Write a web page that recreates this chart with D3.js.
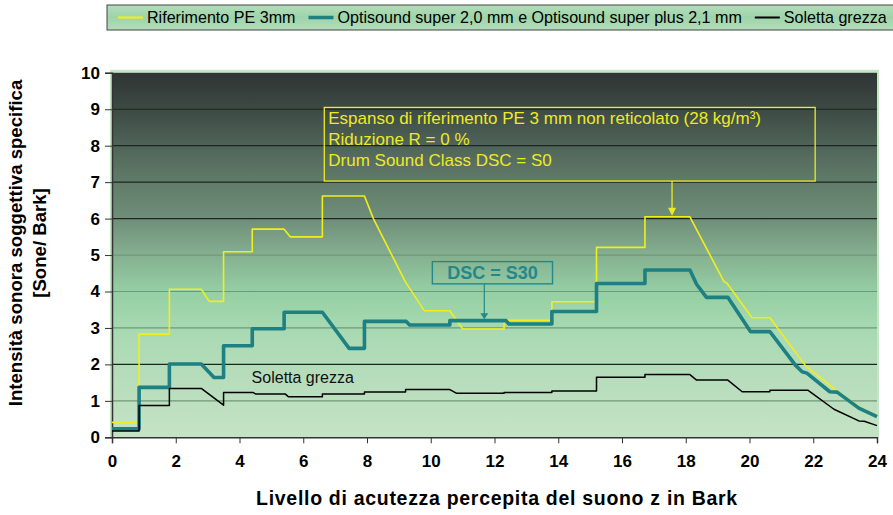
<!DOCTYPE html>
<html>
<head>
<meta charset="utf-8">
<script src="https://cdn.jsdelivr.net/npm/d3@7"></script>
<style>
  body { margin: 0; background: #fff; }
  svg { display: block; font-family: "Liberation Sans", Arial, sans-serif; }
</style>
</head>
<body>
<svg id="chart" width="893" height="515"></svg>
<script>
// Series vertices (Bark, Sone/Bark)
const barkRif = [0, 0.85, 0.85, 1.8, 1.8, 2.8, 3.05, 3.5, 3.5, 4.4, 4.4, 5.4, 5.59, 6.6, 6.6, 7.92, 8.2, 9.2, 9.8, 10.6, 11.0, 12.3, 12.3, 13.8, 13.8, 15.2, 15.2, 16.72, 16.72, 18.13, 19.2, 19.3, 20.08, 20.64, 21.76, 22.7, 23.43, 24];
const soneRif = [0.41, 0.41, 2.83, 2.83, 4.06, 4.06, 3.73, 3.73, 5.09, 5.09, 5.71, 5.71, 5.5, 5.5, 6.62, 6.62, 6.0, 4.27, 3.47, 3.47, 2.97, 2.97, 3.21, 3.21, 3.72, 3.72, 5.21, 5.21, 6.05, 6.05, 4.27, 4.22, 3.28, 3.28, 1.96, 1.30, 0.84, 0.59];

const barkOpti = [0, 0.85, 0.85, 1.8, 1.8, 2.8, 3.2, 3.5, 3.5, 4.4, 4.4, 5.4, 5.4, 6.6, 7.44, 7.92, 7.92, 9.23, 9.34, 10.6, 10.6, 12.36, 12.45, 13.8, 13.8, 15.2, 15.2, 16.72, 16.72, 18.13, 18.34, 18.65, 19.32, 20.03, 20.64, 21.44, 21.65, 21.8, 22.52, 22.75, 23.43, 24];
const soneOpti = [0.23, 0.23, 1.37, 1.37, 2.01, 2.01, 1.64, 1.64, 2.51, 2.51, 2.98, 2.98, 3.43, 3.43, 2.44, 2.44, 3.18, 3.18, 3.08, 3.08, 3.20, 3.20, 3.11, 3.11, 3.45, 3.45, 4.22, 4.22, 4.59, 4.59, 4.2, 3.84, 3.84, 2.90, 2.90, 1.98, 1.80, 1.76, 1.25, 1.24, 0.80, 0.57];

const barkSoletta = [0, 0.85, 0.85, 1.8, 1.8, 2.8, 3.5, 3.5, 4.42, 4.5, 5.43, 5.54, 6.6, 6.6, 7.92, 7.92, 9.21, 9.21, 10.6, 10.8, 12.3, 12.3, 13.8, 13.8, 15.2, 15.2, 16.72, 16.72, 18.13, 18.34, 19.32, 19.77, 20.64, 20.64, 21.84, 22.65, 23.43, 23.6, 24];
const soneSoletta = [0.17, 0.17, 0.87, 0.87, 1.34, 1.34, 0.88, 1.23, 1.23, 1.19, 1.19, 1.11, 1.11, 1.19, 1.19, 1.24, 1.24, 1.31, 1.31, 1.21, 1.21, 1.23, 1.23, 1.27, 1.27, 1.65, 1.65, 1.72, 1.72, 1.57, 1.57, 1.25, 1.25, 1.29, 1.29, 0.77, 0.45, 0.44, 0.32];

const seriesNames = ['Riferimento PE 3mm', 'Optisound super 2,0 mm e Optisound super plus 2,1 mm', 'Soletta grezza'];
const xTickValues = [0, 2, 4, 6, 8, 10, 12, 14, 16, 18, 20, 22, 24];
const yTickValues = [0, 1, 2, 3, 4, 5, 6, 7, 8, 9, 10];
const refNote = ['Espanso di riferimento PE 3 mm non reticolato (28 kg/m³)', 'Riduzione R = 0 %', 'Drum Sound Class DSC = S0'];

const zip = (a, b) => a.map((v, i) => [v, b[i]]);
const series = [
  { name: seriesNames[0], pts: zip(barkRif, soneRif), color: '#f2ee1c', width: 1.6 },
  { name: seriesNames[1], pts: zip(barkOpti, soneOpti), color: '#1d8083', width: 3.6 },
  { name: seriesNames[2], pts: zip(barkSoletta, soneSoletta), color: '#000000', width: 1.5 }
];

const svg = d3.select('#chart');
const x = d3.scaleLinear().domain([0, 24]).range([112, 877]);
const y = d3.scaleLinear().domain([0, 10]).range([437.3, 72.8]);

// gradients
const defs = svg.append('defs');
const bg = defs.append('linearGradient').attr('id', 'plotbg').attr('x1', 0).attr('y1', 0).attr('x2', 0).attr('y2', 1);
[[0, '#2f3434'], [0.1, '#3d4a44'], [0.2, '#4f6458'], [0.3, '#617c6a'], [0.4, '#6f8e79'],
 [0.5, '#85b090'], [0.6, '#95cfa4'], [0.7, '#a7d9b1'], [0.8, '#b3dcb9'], [0.9, '#bcdfbf'], [1, '#c4e3c5']]
  .forEach(s => bg.append('stop').attr('offset', s[0]).attr('stop-color', s[1]));
const lg = defs.append('linearGradient').attr('id', 'legbg').attr('x1', 0).attr('y1', 0).attr('x2', 0).attr('y2', 1);
[[0, '#b4ddba'], [0.5, '#9ed4aa'], [1, '#b4ddba']]
  .forEach(s => lg.append('stop').attr('offset', s[0]).attr('stop-color', s[1]));

// plot area
svg.append('rect')
  .attr('x', x(0) - 2).attr('y', y(10) - 3)
  .attr('width', x(24) - x(0) + 4).attr('height', y(0) - y(10) + 3)
  .attr('fill', '#c6e5c6');
svg.append('rect')
  .attr('x', x(0)).attr('y', y(10))
  .attr('width', x(24) - x(0)).attr('height', y(0) - y(10))
  .attr('fill', 'url(#plotbg)');

// gridlines
svg.append('g').selectAll('line')
  .data(yTickValues.filter(v => v > 0 && v < 10))
  .enter().append('line')
  .attr('x1', x(0)).attr('x2', x(24))
  .attr('y1', d => y(d)).attr('y2', d => y(d))
  .attr('stroke', d => (d === 2 || d >= 6) ? '#1e2420' : '#6f9878')
  .attr('stroke-width', 1.2);

// axes
const yAxis = svg.append('g')
  .attr('transform', `translate(${x(0)},0)`)
  .call(d3.axisLeft(y).tickValues(yTickValues).tickSize(7).tickPadding(5));
const xAxis = svg.append('g')
  .attr('transform', `translate(0,${y(0)})`)
  .call(d3.axisBottom(x).tickValues(xTickValues).tickSize(6).tickPadding(12));
[yAxis, xAxis].forEach(a => {
  a.select('.domain').attr('stroke', '#333').attr('stroke-width', 1.5);
  a.selectAll('.tick line').attr('stroke', '#333');
  a.selectAll('.tick text')
    .attr('fill', '#000')
    .style('font-size', '17px')
    .style('font-weight', 'bold')
    .style('font-family', '"Liberation Sans", Arial, sans-serif');
});

// series lines
const line = d3.line().x(d => x(d[0])).y(d => y(d[1]));
svg.append('g').selectAll('path')
  .data(series)
  .enter().append('path')
  .attr('d', d => line(d.pts))
  .attr('fill', 'none')
  .attr('stroke', d => d.color)
  .attr('stroke-width', d => d.width)
  .attr('stroke-linejoin', 'round');

// annotation: Soletta grezza
svg.append('text')
  .attr('x', x(4.38)).attr('y', y(1.49))
  .style('font-size', '16px')
  .attr('fill', '#111')
  .text(seriesNames[2]);

// annotation: DSC = S30
const teal = '#24888a';
svg.append('rect')
  .attr('x', x(10.05)).attr('y', y(4.82))
  .attr('width', x(13.82) - x(10.05)).attr('height', y(4.21) - y(4.82))
  .attr('fill', 'none').attr('stroke', teal).attr('stroke-width', 1.4);
svg.append('text')
  .attr('x', (x(10.05) + x(13.82)) / 2).attr('y', y(4.25) - 3)
  .attr('text-anchor', 'middle')
  .style('font-size', '18px').style('font-weight', 'bold')
  .attr('fill', teal)
  .text('DSC = S30');
svg.append('line')
  .attr('x1', x(11.68)).attr('x2', x(11.68))
  .attr('y1', y(4.21)).attr('y2', y(3.28))
  .attr('stroke', teal).attr('stroke-width', 1.2);
svg.append('path')
  .attr('d', `M${x(11.68) - 4},${y(3.4)}L${x(11.68) + 4},${y(3.4)}L${x(11.68)},${y(3.24)}Z`)
  .attr('fill', teal);

// annotation: reference note box
const yel = '#eeea22';
svg.append('rect')
  .attr('x', x(6.66)).attr('y', y(9.05))
  .attr('width', x(22.06) - x(6.66)).attr('height', y(7.03) - y(9.05))
  .attr('fill', 'none').attr('stroke', yel).attr('stroke-width', 1.3);
svg.append('g').selectAll('text')
  .data(refNote)
  .enter().append('text')
  .attr('x', x(6.66) + 4)
  .attr('y', (d, i) => y(9.05) + 17 + i * 21)
  .style('font-size', '17px')
  .attr('fill', yel)
  .text(d => d);
svg.append('line')
  .attr('x1', x(17.57)).attr('x2', x(17.57))
  .attr('y1', y(7.03)).attr('y2', y(6.2))
  .attr('stroke', yel).attr('stroke-width', 1.3);
svg.append('path')
  .attr('d', `M${x(17.57) - 4},${y(6.3)}L${x(17.57) + 4},${y(6.3)}L${x(17.57)},${y(6.08)}Z`)
  .attr('fill', yel);

// legend
const legend = svg.append('g');
legend.append('rect')
  .attr('x', 107).attr('y', 5).attr('width', 800).attr('height', 25)
  .attr('fill', 'url(#legbg)').attr('stroke', '#444').attr('stroke-width', 1);
let lx = 118;
series.forEach(s => {
  legend.append('line')
    .attr('x1', lx).attr('x2', lx + 25).attr('y1', 17.5).attr('y2', 17.5)
    .attr('stroke', s.color).attr('stroke-width', Math.min(s.width + 0.5, 3.5));
  const t = legend.append('text')
    .attr('x', lx + 29).attr('y', 23)
    .style('font-size', '16.1px')
    .attr('fill', '#000')
    .text(s.name);
  lx += 29 + t.node().getComputedTextLength() + 13;
});

// axis titles
svg.append('text')
  .attr('transform', 'translate(22,243) rotate(-90)')
  .attr('text-anchor', 'middle')
  .style('font-size', '18.6px').style('font-weight', 'bold')
  .text('Intensità sonora soggettiva specifica');
svg.append('text')
  .attr('transform', 'translate(46,243) rotate(-90)')
  .attr('text-anchor', 'middle')
  .style('font-size', '18.6px').style('font-weight', 'bold')
  .text('[Sone/ Bark]');
svg.append('text')
  .attr('x', 497).attr('y', 505)
  .attr('text-anchor', 'middle')
  .style('font-size', '19.5px').style('font-weight', 'bold')
  .style('letter-spacing', '0.7px')
  .text('Livello di acutezza percepita del suono z in Bark');
</script>
</body>
</html>
